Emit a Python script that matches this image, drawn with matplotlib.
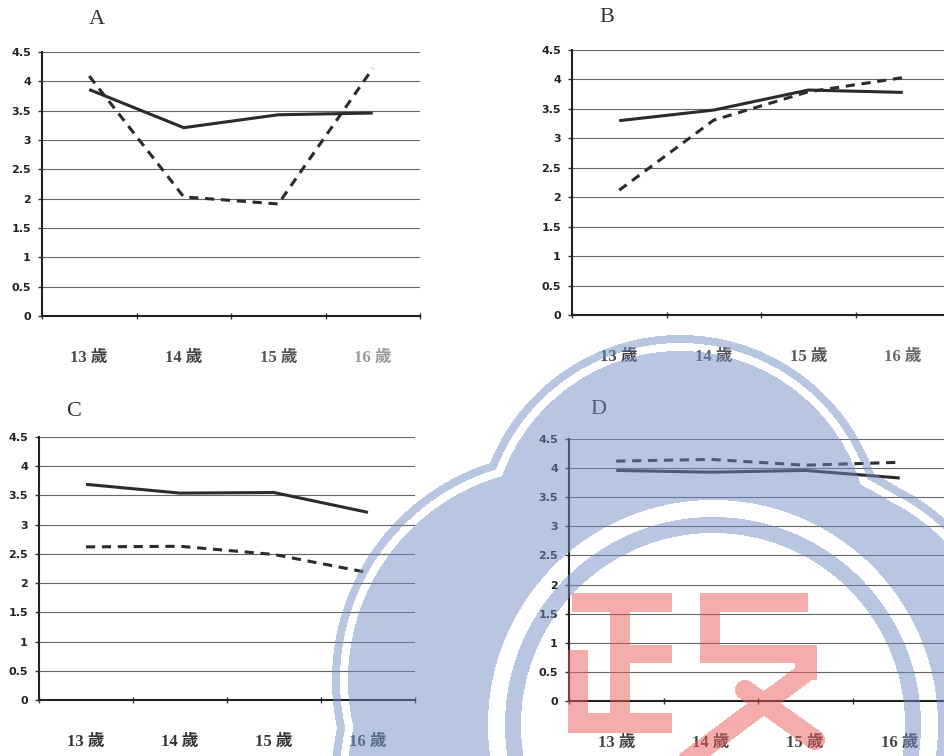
import numpy as np
import matplotlib
matplotlib.use('Agg')
import matplotlib.pyplot as plt

# ages on the x axis
ages = ['13 歲', '14 歲', '15 歲', '16 歲']
yticks = [0, 0.5, 1, 1.5, 2, 2.5, 3, 3.5, 4, 4.5]
ytick_labels = ['0', '0.5', '1', '1.5', '2', '2.5', '3', '3.5', '4', '4.5']

# values (solid line / dashed line)
a_solid = [3.86, 3.21, 3.43, 3.46]
a_dashed = [4.09, 2.03, 1.91, 4.22]
b_solid = [3.30, 3.48, 3.82, 3.78]
b_dashed = [2.12, 3.31, 3.79, 4.03]
c_solid = [3.69, 3.54, 3.55, 3.21]
c_dashed = [2.62, 2.63, 2.49, 2.18]
d_solid = [3.96, 3.93, 3.96, 3.83]
d_dashed = [4.12, 4.15, 4.05, 4.10]

W, H = 944, 756
fig = plt.figure(figsize=(W / 100, H / 100), dpi=100)
fig.patch.set_facecolor('white')

serif_cjk = ['Liberation Serif', 'Noto Sans CJK TC', 'DejaVu Sans']


def px_rect(x0, top, x1, bottom):
    return [x0 / W, 1 - bottom / H, (x1 - x0) / W, (bottom - top) / H]


def draw_panel(rect, solid, dashed, title, title_xy, label_colors):
    ax = fig.add_axes(rect)
    x = np.arange(len(ages))
    ax.plot(x, solid, color='#2b2b2b', lw=2.2, solid_capstyle='butt', zorder=3)
    ax.plot(x, dashed, color='#2b2b2b', lw=2.2, linestyle=(0, (3.0, 2.2)), zorder=3)
    ax.set_xlim(-0.5, len(ages) - 0.5)
    ax.set_ylim(0, 4.5)
    ax.set_yticks(yticks)
    ax.set_yticklabels(ytick_labels, fontsize=8, fontweight='bold', color='#222')
    ax.set_xticks(np.arange(-0.5, len(ages), 1.0))
    ax.set_xticklabels([])
    ax.tick_params(axis='y', length=3, width=1, pad=5, color='#333')
    ax.tick_params(axis='x', length=4, width=1, direction='inout', color='#333')
    ax.yaxis.grid(True, color='#666', lw=0.8)
    ax.set_axisbelow(True)
    for s in ['top', 'right']:
        ax.spines[s].set_visible(False)
    for s in ['left', 'bottom']:
        ax.spines[s].set_color('#222')
        ax.spines[s].set_linewidth(1.5)
    h = rect[3] * H
    for i, lab in enumerate(ages):
        ax.text(i, -42 / h, lab, transform=ax.get_xaxis_transform(),
                ha='center', va='center', fontsize=12, fontweight='bold',
                family=serif_cjk, color=label_colors[i])
    fig.text(title_xy[0] / W, 1 - title_xy[1] / H, title, ha='center', va='center',
             fontsize=16, family='Liberation Serif', color='#333')
    return ax


draw_panel(px_rect(42, 52, 420, 316), a_solid, a_dashed, 'A', (97, 20),
           ['#444', '#444', '#555', '#999'])
draw_panel(px_rect(572, 50, 950, 315), b_solid, b_dashed, 'B', (607, 17),
           ['#445', '#555', '#555', '#666'])
draw_panel(px_rect(39, 437, 415, 700), c_solid, c_dashed, 'C', (74, 412),
           ['#333', '#333', '#333', '#445'])
draw_panel(px_rect(569, 439, 947, 701), d_solid, d_dashed, 'D', (598, 410),
           ['#444', '#444', '#444', '#444'])

# library watermark laid over the scan
yy, xx = np.mgrid[0:H, 0:W] + 0.5
lobes = [(680, 540, 205), (560, 680, 228), (810, 667, 200), (700, 800, 370)]


def cloud(d):
    m = np.zeros((H, W), bool)
    for cx, cy, r in lobes:
        m |= (xx - cx) ** 2 + (yy - cy) ** 2 < (r - d) ** 2
    return m


def box(x0, x1, y0, y1):
    return (xx >= x0) & (xx <= x1) & (yy >= y0) & (yy <= y1)


def seg(x0, y0, x1, y1, w):
    dx, dy = x1 - x0, y1 - y0
    t = np.clip(((xx - x0) * dx + (yy - y0) * dy) / (dx * dx + dy * dy), 0, 1)
    return np.hypot(xx - x0 - t * dx, yy - y0 - t * dy) < w / 2


blue = (cloud(0) & ~cloud(8)) | cloud(16)
rr = np.hypot(xx - 713, yy - 725)
blue &= ~((rr >= 208) & (rr < 225))
blue &= ~(rr < 192)

red = (box(572, 672, 593, 612) | box(610, 630, 593, 733) | box(630, 672, 645, 663)
       | box(568, 588, 650, 733) | box(568, 672, 713, 733)
       | box(708, 808, 593, 612) | box(700, 720, 593, 663) | box(700, 807, 645, 663)
       | box(795, 817, 645, 680) | seg(806, 672, 688, 760, 20) | seg(745, 690, 815, 740, 20))

img = np.zeros((H, W, 4))
img[blue] = [113 / 255, 141 / 255, 197 / 255, 0.5]
img[red] = [235 / 255, 90 / 255, 90 / 255, 0.5]
ov = fig.add_axes([0, 0, 1, 1], zorder=10)
ov.imshow(img, extent=(0, W, H, 0), interpolation='nearest', aspect='auto')
ov.set_xlim(0, W)
ov.set_ylim(H, 0)
ov.axis('off')

fig.savefig('out.png', dpi=100)
plt.close(fig)
